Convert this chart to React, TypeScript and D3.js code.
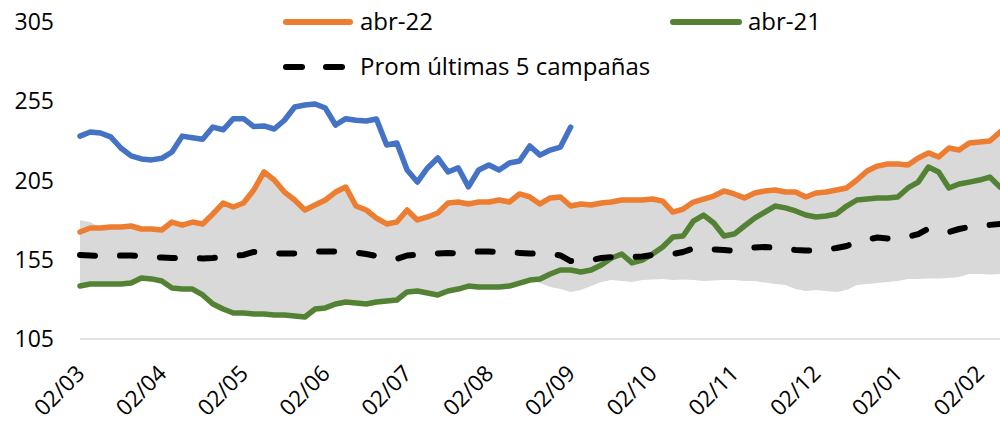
import * as d3 from "d3";

// etiquetas del eje X (una cada 8 puntos)
const MESES = ["02/03", "02/04", "02/05", "02/06", "02/07", "02/08", "02/09", "02/10", "02/11", "02/12", "02/01", "02/02"];
const PUNTOS_POR_MES = 8;
const Y_TICKS = [105, 155, 205, 255, 305];

// campaña actual (sin entrada en la leyenda)
const ABR_23 = [233, 235.6, 235, 232.5, 225.5, 220.5, 218.6, 218, 219, 223, 233, 232, 231, 238.7, 237, 244, 244, 239, 239.4, 237.5,
  243, 251.4, 252.6, 253.3, 250.7, 240, 244, 243, 242.5, 243.8, 227.4, 228.7, 211.6, 204, 212.9, 219.2, 210.4, 213, 201, 211.6,
  214.8, 211.6, 216, 217.3, 226.8, 221, 224.2, 226.1, 238.7];

const ABR_22 = [172.5, 175, 175, 175.7, 175.7, 176.3, 174.4, 174.4, 173.8, 178.8, 176.9, 178.8, 177.6, 183.9, 190.8, 188.3, 190.8, 199, 210.4, 205.3,
  197.7, 192.7, 186.4, 189.5, 192.7, 197.7, 200.9, 188.9, 186.4, 181.3, 177.6, 178.8, 186.4, 180.1, 182, 184.5, 190.8, 191.4, 190.2, 191.4,
  191.4, 192.7, 191.4, 196.5, 194.6, 190.2, 194, 194.6, 188.9, 190.2, 189.5, 190.8, 191.4, 192.7, 192.7, 192.7, 193.3, 192, 185.1, 187,
  191.4, 193.3, 195.2, 198.4, 196.5, 194, 197.1, 198.4, 199, 197.7, 197.7, 194.6, 197.1, 197.7, 199, 200.3, 205.3, 211, 214.1, 215.4,
  215.4, 214.8, 219.2, 222.4, 219.8, 225.5, 224.2, 228.7, 229.3, 229.9, 235.6];

const ABR_21 = [138.4, 139.7, 139.7, 139.7, 139.7, 140.3, 143.5, 142.9, 141.6, 137.2, 136.5, 136.5, 132.8, 127.1, 123.9, 121.4, 121.4, 120.8, 120.8, 120.1,
  120.1, 119.5, 118.9, 123.9, 124.6, 127.1, 128.3, 127.7, 127.1, 128.3, 129, 129.6, 134.7, 135.3, 134, 132.8, 135.3, 136.5, 138.4, 137.8,
  137.8, 137.8, 138.4, 140.3, 142.2, 142.9, 146, 148.5, 148.5, 147.3, 148.5, 151.7, 156.1, 158.6, 153, 154.8, 158.6, 163, 169.4, 170,
  179.4, 183.2, 178.2, 170, 171.2, 176.3, 181.3, 185.1, 188.9, 187.7, 185.8, 183.2, 182, 182.6, 183.9, 188.9, 192.7, 193.3, 194, 194,
  194.6, 200.3, 204, 213.5, 210.4, 200.3, 202.8, 204, 205.3, 207.2, 200.9];

const PROMEDIO = [158, 157.7, 157.4, 157.4, 157.7, 157.7, 157.4, 156.7, 156.4, 156.1, 156.1, 156.1, 155.8, 156.1, 156.7, 157.4, 158, 159.9, 159.3, 159,
  159, 159, 159.9, 160.2, 160.2, 160.2, 160.2, 159.6, 158.6, 157.4, 156.1, 155.5, 157.7, 158.3, 158.6, 159, 159.3, 159, 159.9, 160.2,
  160.2, 159.9, 159.6, 159.3, 159, 158.6, 158.6, 157.7, 154.2, 153.6, 154.8, 156.1, 156.7, 156.7, 156.7, 157.1, 158, 158, 158.6, 159.9,
  162.1, 161.8, 161.5, 161.2, 160.5, 161.8, 162.7, 163, 162.7, 161.8, 161.2, 160.8, 160.8, 161.5, 162.4, 163.7, 166.2, 167.8, 169, 168.4,
  168.7, 169.4, 171.2, 174.7, 173.8, 172.5, 174.4, 175.7, 176.3, 177, 177.6];

// máximo / mínimo de las otras campañas cuando superan a abr-22 / abr-21 (null = no lo superan)
const TECHO_OTRAS: (number | null)[] = [180, 178.8];
const PISO_OTRAS: (number | null)[] = [
  ...Array(45).fill(null),
  140.3, 137.8, 136.5, 134.7, 135.9, 138.4, 141, 142.2, 141.6, 141, 142.2, 142.5, 142.9, 142.2, 142.5,
  142.2, 141.6, 141.9, 142.2, 142.2, 141.6, 141.6, 140.6, 139.7, 139, 136.5, 135.3, 135.9, 135.3, 134.7,
  135.9, 139, 139.7, 140.3, 141, 141.6, 142.9, 142.9, 143.2, 143.2, 143.5, 144.1, 146, 146, 145.7, 146,
];

const W = 1000;
const H = 424;
const FONT = "'Open Sans', sans-serif";

export default function App() {
  const x = d3.scaleLinear().domain([0, ABR_22.length - 1]).range([80, 1000]);
  const y = d3.scaleLinear().domain([105, 305]).range([339, 22]);

  const idx = d3.range(ABR_22.length);
  const techo = (i: number) => Math.max(ABR_22[i], TECHO_OTRAS[i] ?? -Infinity);
  const piso = (i: number) => Math.min(ABR_21[i], PISO_OTRAS[i] ?? Infinity);

  const banda = d3.area<number>()
    .x((i) => x(i))
    .y0((i) => y(piso(i)))
    .y1((i) => y(techo(i)))(idx) as string;

  const linea = d3.line<number>().x((_, i) => x(i)).y((d) => y(d));

  const series = [
    { vals: ABR_21, color: "#548235" },
    { vals: ABR_22, color: "#ED7D31" },
    { vals: ABR_23, color: "#4472C4" },
  ];

  return (
    <svg width={W} height={H} style={{ position: "absolute", left: 0, top: 0, background: "#fff" }} fontFamily={FONT}>
      <path d={banda} fill="#D9D9D9" />
      <line x1={80} x2={1000} y1={y(105)} y2={y(105)} stroke="#D9D9D9" strokeWidth={1.5} />

      {series.map((s) => (
        <path key={s.color} d={linea(s.vals) as string} fill="none" stroke={s.color} strokeWidth={5.5}
          strokeLinejoin="round" strokeLinecap="round" />
      ))}
      <path d={linea(PROMEDIO) as string} fill="none" stroke="#000" strokeWidth={6}
        strokeDasharray="15 25" strokeLinecap="round" strokeLinejoin="round" />

      {Y_TICKS.map((t) => (
        <text key={t} x={54} y={y(t)} dy="0.35em" textAnchor="end" fontSize={23} fill="#000">{t}</text>
      ))}

      {MESES.map((m, k) => {
        const px = x(k * PUNTOS_POR_MES) + 6;
        const py = 375;
        return (
          <text key={m} x={px} y={py} textAnchor="end" fontSize={22.5} fill="#000"
            transform={`rotate(-45 ${px} ${py})`}>{m}</text>
        );
      })}

      {/* leyenda */}
      <line x1={286} x2={350} y1={22} y2={22} stroke="#ED7D31" strokeWidth={6} strokeLinecap="round" />
      <text x={360} y={22} dy="0.35em" fontSize={24}>abr-22</text>
      <line x1={673} x2={739} y1={22} y2={22} stroke="#548235" strokeWidth={6} strokeLinecap="round" />
      <text x={748} y={22} dy="0.35em" fontSize={24}>abr-21</text>
      <line x1={286} x2={345} y1={67} y2={67} stroke="#000" strokeWidth={6} strokeLinecap="round" strokeDasharray="16 24" />
      <text x={360} y={67} dy="0.35em" fontSize={24}>Prom últimas 5 campañas</text>
    </svg>
  );
}
